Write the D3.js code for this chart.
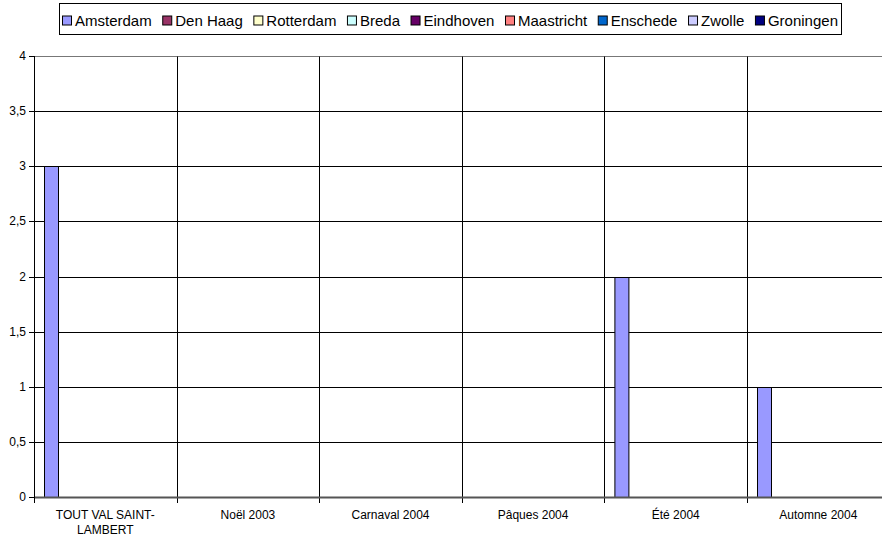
<!DOCTYPE html>
<html lang="fr">
<head>
  <meta charset="UTF-8">
  <title>Séjours</title>
  <style>
    html, body { margin: 0; padding: 0; background: #fff; }
    svg { display: block; font-family: "Liberation Sans", Arial, sans-serif; }
  </style>
  <script src="https://cdn.jsdelivr.net/npm/d3@7"></script>
</head>
<body>
  <svg id="chart" width="882" height="539"></svg>
  <script>
    //
    // Data
    //
    var categories = ['TOUT VAL SAINT-LAMBERT', 'Noël 2003', 'Carnaval 2004', 'Pâques 2004', 'Été 2004', 'Automne 2004']
    var seriesNames = ['Amsterdam', 'Den Haag', 'Rotterdam', 'Breda', 'Eindhoven', 'Maastricht', 'Enschede', 'Zwolle', 'Groningen']
    var amsterdam = [3, 0, 0, 0, 2, 1]
    var denHaag = [0, 0, 0, 0, 0, 0]
    var rotterdam = [0, 0, 0, 0, 0, 0]
    var breda = [0, 0, 0, 0, 0, 0]
    var eindhoven = [0, 0, 0, 0, 0, 0]
    var maastricht = [0, 0, 0, 0, 0, 0]
    var enschede = [0, 0, 0, 0, 0, 0]
    var zwolle = [0, 0, 0, 0, 0, 0]
    var groningen = [0, 0, 0, 0, 0, 0]
    var yTicks = [0, 0.5, 1, 1.5, 2, 2.5, 3, 3.5, 4]

    // colors (classic excel palette)
    var colors = ['#9999FF', '#993366', '#FFFFCC', '#CCFFFF', '#660066', '#FF8080', '#0066CC', '#CCCCFF', '#000080']

    var seriesValues = [amsterdam, denHaag, rotterdam, breda, eindhoven, maastricht, enschede, zwolle, groningen]

    //
    // Layout
    //
    var svg = d3.select('#chart')
    var plotLeft = 34, plotTop = 56, plotBottom = 497
    var step = 142.6
    var plotRight = plotLeft + categories.length * step

    var x0 = d3.scaleBand().domain(categories).range([plotLeft, plotRight]).padding(0)
    var x1 = d3.scaleBand().domain(seriesNames).range([0, x0.bandwidth()])
      .paddingInner(0).paddingOuter(0.75)
    var y = d3.scaleLinear().domain([0, 4]).range([plotBottom, plotTop])

    var fmt = d3.formatLocale({ decimal: ',', thousands: ' ', grouping: [3], currency: ['', ''] }).format('~g')

    // horizontal gridlines
    svg.append('g')
      .selectAll('line')
      .data(yTicks.filter(function (d) { return d > 0 }))
      .join('line')
      .attr('x1', plotLeft).attr('x2', 882)
      .attr('y1', function (d) { return Math.round(y(d)) + 0.5 })
      .attr('y2', function (d) { return Math.round(y(d)) + 0.5 })
      .attr('stroke', function (d) { return d === 4 ? '#777' : '#000' })
      .attr('stroke-width', 1)

    // vertical gridlines between categories (with tick below axis)
    svg.append('g')
      .selectAll('line')
      .data(categories.slice(1))
      .join('line')
      .attr('x1', function (d) { return Math.round(x0(d)) + 0.5 })
      .attr('x2', function (d) { return Math.round(x0(d)) + 0.5 })
      .attr('y1', Math.round(plotTop) + 0.5)
      .attr('y2', plotBottom + 6)
      .attr('stroke', '#000')

    // bars
    var groups = svg.append('g')
      .selectAll('g')
      .data(categories)
      .join('g')
      .attr('transform', function (d) { return 'translate(' + x0(d) + ',0)' })

    groups.selectAll('rect')
      .data(function (c, i) {
        return seriesNames.map(function (s, j) { return { s: s, v: seriesValues[j][i], color: colors[j] } })
      })
      .join('rect')
      .filter(function (d) { return d.v > 0 })
      .attr('x', function (d) { return Math.round(x1(d.s)) + 0.5 })
      .attr('y', function (d) { return Math.round(y(d.v)) + 0.5 })
      .attr('width', Math.round(x1.bandwidth()))
      .attr('height', function (d) { return Math.round(y(0)) - Math.round(y(d.v)) })
      .attr('fill', function (d) { return d.color })
      .attr('stroke', '#000')
      .attr('stroke-width', 1)

    // x axis baseline
    svg.append('line')
      .attr('x1', plotLeft).attr('x2', 882)
      .attr('y1', plotBottom + 0.5).attr('y2', plotBottom + 0.5)
      .attr('stroke', '#555').attr('stroke-width', 2)

    // y axis
    var yAxis = svg.append('g')
    yAxis.append('line')
      .attr('x1', plotLeft + 0.5).attr('x2', plotLeft + 0.5)
      .attr('y1', plotTop).attr('y2', plotBottom + 6)
      .attr('stroke', '#000')
    yAxis.selectAll('line.tick')
      .data(yTicks)
      .join('line')
      .attr('class', 'tick')
      .attr('x1', plotLeft - 5).attr('x2', plotLeft)
      .attr('y1', function (d) { return Math.round(y(d)) + 0.5 })
      .attr('y2', function (d) { return Math.round(y(d)) + 0.5 })
      .attr('stroke', '#000')
    yAxis.selectAll('text')
      .data(yTicks)
      .join('text')
      .attr('x', 26)
      .attr('y', function (d) { return y(d) + 4 })
      .attr('text-anchor', 'end')
      .attr('font-size', 12)
      .text(function (d) { return fmt(d) })

    // category labels
    svg.append('g')
      .selectAll('text')
      .data(categories)
      .join('text')
      .attr('text-anchor', 'middle')
      .attr('font-size', 12)
      .attr('transform', function (d) { return 'translate(' + (x0(d) + x0.bandwidth() / 2) + ',519)' })
      .each(function (d) {
        var parts = d.indexOf('-') >= 0 ? [d.slice(0, d.indexOf('-') + 1), d.slice(d.indexOf('-') + 1)] : [d]
        d3.select(this).selectAll('tspan')
          .data(parts)
          .join('tspan')
          .attr('x', 0)
          .attr('dy', function (p, i) { return i === 0 ? 0 : 15 })
          .text(function (p) { return p })
      })

    //
    // Legend
    //
    var legX = 59.5, legY = 3.5, legW = 782, legH = 31
    var legend = svg.append('g')
    legend.append('rect')
      .attr('x', legX).attr('y', legY)
      .attr('width', legW).attr('height', legH)
      .attr('fill', '#fff').attr('stroke', '#000')

    var items = legend.selectAll('g.item')
      .data(seriesNames)
      .join('g')
      .attr('class', 'item')
    items.append('rect')
      .attr('x', 0.5).attr('y', 0.5)
      .attr('width', 9).attr('height', 9)
      .attr('fill', function (d, i) { return colors[i] })
      .attr('stroke', '#000')
    items.append('text')
      .attr('x', 13).attr('y', 10)
      .attr('font-size', 15)
      .text(function (d) { return d })

    var widths = []
    items.selectAll('text').each(function () { widths.push(this.getComputedTextLength()) })
    var startX = 62, endX = 838
    var used = d3.sum(widths, function (w) { return w + 13 })
    var gap = (endX - startX - used) / (seriesNames.length - 1)
    var cx = startX
    items.attr('transform', function (d, i) {
      var t = 'translate(' + cx + ',15.5)'
      cx += 13 + widths[i] + gap
      return t
    })
  </script>
</body>
</html>
